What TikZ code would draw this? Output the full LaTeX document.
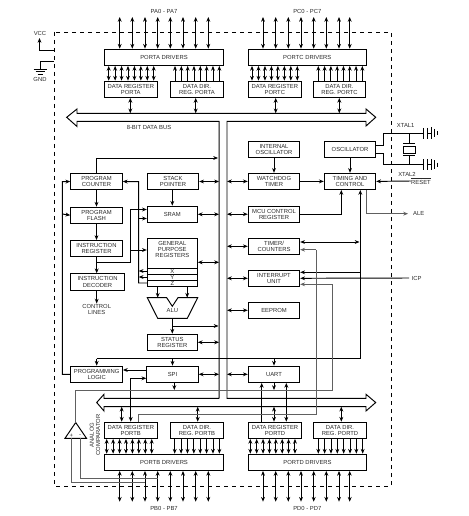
\documentclass[tikz,border=0pt]{standalone}
\usepackage{fontspec}
\setmainfont{Liberation Sans}
\usepackage{xcolor}
\usetikzlibrary{positioning,arrows.meta}
\definecolor{InkGray}{HTML}{2A2A2A}
\definecolor{WireGray}{HTML}{606060}
\newcommand{\chipfont}{\fontsize{4.4}{4.8}\selectfont}
% eight wires in a row between two nodes
\newcommand{\wirerow}[5]{\foreach \i in {0,...,7}{\pgfmathsetmacro{\wx}{#2+#3*\i}\draw[#1] (\wx,0 |- #4) -- (\wx,0 |- #5);}}
\tikzset{
  onearr/.style={-{Stealth[length=3.6pt,width=2.9pt]}},
  biarr/.style={{Stealth[length=3.6pt,width=2.9pt]}-{Stealth[length=3.6pt,width=2.9pt]}},
  block/.style={draw,fill=white,inner sep=0pt,align=center,minimum width=38.6pt,minimum height=12.2pt},
  txt/.style={inner sep=0pt,align=center,text=InkGray},
}

\begin{document}
\begin{tikzpicture}[x=0.75pt,y=-0.75pt,line width=0.72pt,every node/.style={font=\chipfont,text=InkGray}]
  \useasboundingbox (0,0) rectangle (468,516);
  % chip outline and supply
  \draw[dashed,line width=0.65pt] (54,32) rectangle (391,486);
  \node[txt] (vcc) at (40,33.5) {VCC};
  \node[txt] (gnd) at (40,79.5) {GND};
  \coordinate (vccin) at (54,50);
  \coordinate (vccend) at (39.5,38);
  \coordinate (gndin) at (54,61.7);
  \coordinate (gndend) at (40,69);
  \draw[onearr] (vccin) -| (vccend);
  \draw (gndin) -| (gndend);
  \draw (33.5,69) -- (46.5,69) (35.5,71.5) -- (44.5,71.5) (37.5,74) -- (42.5,74);

  % data bus
  \draw (219,398.3) -- (219,121.3) -- (77,121.3) -- (77,126.5) -- (66.7,117.3) -- (77,109) -- (77,113.3)
    -- (366,113.3) -- (366,109) -- (375.7,117.3) -- (366,126) -- (366,121.3) -- (227,121.3) -- (227,398.3)
    -- (366,398.3) -- (366,394.3) -- (375.7,402.5) -- (366,411) -- (366,406.7) -- (104,406.7) -- (104,411)
    -- (96.7,402.5) -- (104,394.3) -- (104,398.3) -- cycle;
  \draw[WireGray] (219,121.3) -- (219,398.3);
  \coordinate (busl) at (219,250);
  \coordinate (busr) at (227,250);
  \coordinate (bustopu) at (0,113.3);
  \coordinate (buslowd) at (0,406.7);
  \node[txt] (buslabel) at (149,127.5) {8-BIT DATA BUS};

  % port A
  \node[block,minimum width=89.6pt] (padrv) at (164,57.3) {PORTA DRIVERS};
  \node[block,minimum width=39.8pt] (pareg) at (130.8,89.3) {DATA REGISTER\\PORTA};
  \node[block,minimum width=40pt] (padir) at (197,89.3) {DATA DIR.\\REG. PORTA};
  \node[txt] (palabel) at (164,11) {PA0 - PA7};
  \coordinate (patop) at (0,17);
  \foreach \x in {119.7,132.3,145,157.7,170.3,183,195.7,208.3}
    \draw[biarr] (\x,0 |- patop) -- (\x,0 |- padrv.north);
  \wirerow{biarr}{108.7}{6.43}{padrv.south}{pareg.north}
  \wirerow{onearr}{175}{6.33}{padir.north}{padrv.south}
  \draw[biarr] (130.3,0 |- pareg.south) -- (130.3,0 |- bustopu);
  \draw[biarr] (195.7,0 |- padir.south) -- (195.7,0 |- bustopu);

  % port C
  \node[block,minimum width=88.5pt] (pcdrv) at (307.3,57.3) {PORTC DRIVERS};
  \node[block,minimum width=39.8pt] (pcreg) at (274.8,89.3) {DATA REGISTER\\PORTC};
  \node[block,minimum width=39.5pt] (pcdir) at (339.5,89.3) {DATA DIR.\\REG. PORTC};
  \node[txt] (pclabel) at (307.3,11) {PC0 - PC7};
  \foreach \x in {263,275.7,288.3,301,313.7,326.3,339,349.7}
    \draw[biarr] (\x,0 |- patop) -- (\x,0 |- pcdrv.north);
  \wirerow{biarr}{252}{6.47}{pcdrv.south}{pcreg.north}
  \wirerow{onearr}{318.3}{6.29}{pcdir.north}{pcdrv.south}
  \draw[biarr] (275.7,0 |- pcreg.south) -- (275.7,0 |- bustopu);
  \draw[biarr] (339.3,0 |- pcdir.south) -- (339.3,0 |- bustopu);

  % program side
  \node[block] (pc) at (96.5,181.5) {PROGRAM\\COUNTER};
  \node[block,below=12.4pt of pc] (flash) {PROGRAM\\FLASH};
  \node[block,below=12.1pt of flash] (ir) {INSTRUCTION\\REGISTER};
  \node[block,minimum width=40.2pt,below=12pt of ir.south west,anchor=north west] (dec) {INSTRUCTION\\DECODER};
  \node[txt] (ctl) at (96.7,309.3) {CONTROL\\LINES};
  \draw[onearr] (pc) -- (flash);
  \draw[onearr] (flash) -- (ir);
  \draw[onearr] (96.7,0 |- ir.south) -- (96.7,0 |- dec.north);
  \draw[onearr] (96.7,0 |- dec.south) -- (96.7,0 |- ctl.north);
  \draw[onearr] (pc.north) -- (96.5,158) -- (218,158);

  % registers
  \node[block,minimum width=38.6pt] (sp) at (173,181.5) {STACK\\POINTER};
  \node[block,minimum width=37.5pt] (sram) at (172.3,214.3) {SRAM};
  \node[block,minimum width=37.5pt,minimum height=36pt] (gpr) at (172.3,262.3) {};
  \node[txt,anchor=north] (gprtxt) at (172.3,240.5) {GENERAL\\PURPOSE\\REGISTERS};
  \draw (gpr.west |- 0,268.3) -- (gpr.east |- 0,268.3) (gpr.west |- 0,274.3) -- (gpr.east |- 0,274.3) (gpr.west |- 0,280.3) -- (gpr.east |- 0,280.3);
  \node[txt] (regx) at (172.3,271.3) {X};
  \node[txt] (regy) at (172.3,277.3) {Y};
  \node[txt] (regz) at (172.3,283.3) {Z};
  \coordinate (alua) at (157.7,297.7);
  \coordinate (alub) at (187.2,297.7);
  \coordinate (aluo) at (172.3,318.3);
  \draw (147.3,297.7) -- (157.7,318.3) -- (187.3,318.3) -- (197.7,297.7) -- (178,297.7) -- (172.3,306.3) -- (166.7,297.7) -- cycle;
  \node[txt] (alu) at (172.3,310.5) {ALU};
  \node[block,minimum width=37.5pt] (sreg) at (172.3,342.3) {STATUS\\REGISTER};
  \draw[onearr] (sram.north |- sp.south) -- (sram.north);
  \draw[onearr] (alua |- gpr.south) -- (alua);
  \draw[onearr] (alub |- gpr.south) -- (alub);
  \draw[onearr] (aluo) -- (sreg.north);
  \draw[onearr] (172.3,326) -- (218.5,326);
  \draw[biarr] (sp.east) -- (sp.east -| busl);
  \draw[biarr] (sram.east) -- (sram.east -| busl);
  \draw[biarr] (gpr.east) -- (gpr.east -| busl);
  \draw[biarr] (sreg.east) -- (sreg.east -| busl);
  % register lines
  \draw[onearr] (gpr.west |- 0,283) -- (138.7,283) -- (138.7,181.7) -- (pc.east);
  \draw[onearr] (138.7,218.5) -- (sram.west |- 0,218.5);
  \draw[onearr] (gpr.west |- 0,271) -- (138.7,271);
  \draw[onearr] (gpr.west |- 0,277) -- (138.7,277);
  \draw[onearr] (96.7,262.3) -- (130.7,262.3) -- (130.7,209.5) -- (sram.west |- 0,209.5);
  \draw[onearr] (130.7,250) -- (gpr.west |- 0,250);

  % right column
  \node[block] (iosc) at (274,149.3) {INTERNAL\\OSCILLATOR};
  \node[block] (wdt) at (274,181.4) {WATCHDOG\\TIMER};
  \node[block] (mcu) at (274,214.2) {MCU CONTROL\\REGISTER};
  \node[block] (timer) at (274,246.3) {TIMER/\\COUNTERS};
  \node[block] (intr) at (274,278.3) {INTERRUPT\\UNIT};
  \node[block] (eeprom) at (274,310.3) {EEPROM};
  \node[block] (osc) at (350,149.3) {OSCILLATOR};
  \node[block] (tim) at (350,181.4) {TIMING AND\\CONTROL};
  \draw[onearr] (iosc) -- (wdt);
  \draw[onearr] (osc) -- (tim);
  \draw[onearr] (wdt) -- (tim);
  \draw[onearr] (mcu.east) -- (341.3,0 |- mcu.east) -- (341.3,0 |- tim.south);
  \foreach \n in {wdt,mcu,timer,intr,eeprom}
    \draw[biarr] (\n.west) -- (\n.west -| busr);
  \coordinate (clock) at (360.3,358.7);
  \draw[onearr] (clock) -- (360.3,0 |- tim.south);
  \draw[biarr] (timer.east |- 0,242) -- (359.5,242);
  \draw[onearr] (360.3,272.3) -- (intr.east |- 0,272.3);
  \node[txt,anchor=west] (icp) at (411.3,278) {ICP};
  \draw[onearr] ([xshift=-1.7pt]icp.west) -- (intr.east);
  \node[txt,anchor=west] (ale) at (412.7,213.7) {ALE};
  \draw[onearr,WireGray] (366.7,0 |- tim.south) -- (366.7,213.7) -- ([xshift=-3.5pt]ale.west);

  % clock source
  \node[txt] (xa) at (405.7,125.3) {XTAL1};
  \node[txt] (xb) at (407,174) {XTAL2};
  \node[txt] (rst) at (421,181) {$\overline{\mbox{RESET}}$};
  \draw[onearr] (rst.west) -- (tim.east);
  \draw (osc.east |- 0,145.7) -- (383.3,145.7) -- (383.3,133.3) -- (423.3,133.3) (427.7,133.3) -- (431.7,133.3);
  \draw (osc.east |- 0,153.3) -- (383.3,153.3) -- (383.3,164.7) -- (423.3,164.7) (427.7,164.7) -- (431.7,164.7);
  \draw (423.3,128) -- (423.3,138.7) (427.7,128) -- (427.7,138.7) (431.7,127.5) -- (431.7,139) (434.3,129) -- (434.3,137.3) (437,131.3) -- (437,135.3);
  \draw (423.3,159.4) -- (423.3,170) (427.7,159.4) -- (427.7,170) (431.7,158.9) -- (431.7,170.5) (434.3,160.4) -- (434.3,169) (437,162.7) -- (437,166.7);
  \draw (409.3,133.3) -- (409.3,143.7) (409.3,155.7) -- (409.3,164.7);
  \draw (403,143.7) -- (415,143.7) (403,155.7) -- (415,155.7);
  \draw (403,146.3) rectangle (415,153);

  % bottom row of units
  \node[block] (prog) at (96.7,374.3) {PROGRAMMING\\LOGIC};
  \node[block] (spi) at (172.5,374.3) {SPI};
  \node[block] (uart) at (274,374.3) {UART};
  \draw (96.7,358.7) -- (clock);
  \draw[onearr] (96.7,358.7) -- (prog.north);
  \draw[onearr] (spi.north |- clock) -- (spi.north);
  \draw[onearr] (uart.north |- clock) -- (uart.north);
  \draw[onearr] (spi.west |- 0,370) -- (prog.east |- 0,370);
  \draw[biarr] (spi.east) -- (spi.east -| busl);
  \draw[biarr] (uart.west) -- (uart.west -| busr);
  \draw[onearr] (prog.west) -- (62.3,0 |- prog.west) -- (62.3,181.7) -- (pc.west);
  \draw[onearr] (62.3,214) -- (flash.west);

  % port B
  \node[block,minimum width=39.8pt] (pbreg) at (130.8,430.3) {DATA REGISTER\\PORTB};
  \node[block,minimum width=40pt] (pbdir) at (197,430.3) {DATA DIR.\\REG. PORTB};
  \node[block,minimum width=89.6pt] (pbdrv) at (164,462.3) {PORTB DRIVERS};
  \node[txt] (pblabel) at (164,508.3) {PB0 - PB7};
  \coordinate (pbot) at (0,501.7);
  \foreach \x in {119.7,132.3,145,157.7,170.3,183,195.7,208.3}
    \draw[biarr] (\x,0 |- pbot) -- (\x,0 |- pbdrv.south);
  \wirerow{biarr}{106.7}{6.43}{pbreg.south}{pbdrv.north}
  \wirerow{onearr}{174.7}{6.38}{pbdir.south}{pbdrv.north}
  \draw[biarr] (121.7,0 |- buslowd) -- (121.7,0 |- pbreg.north);
  \draw[biarr] (197.7,0 |- buslowd) -- (197.7,0 |- pbdir.north);
  \draw[biarr] (130.7,0 |- pbreg.north) -- (130.7,378.3) -- (spi.west |- 0,378.3);
  \draw[onearr] (174.3,0 |- spi.south) -- (174.3,390);

  % port D
  \node[block,minimum width=40pt] (pdreg) at (275,430.3) {DATA REGISTER\\PORTD};
  \node[block,minimum width=40pt] (pddir) at (340,430.3) {DATA DIR.\\REG. PORTD};
  \node[block,minimum width=88.8pt] (pddrv) at (307.5,462.3) {PORTD DRIVERS};
  \node[txt] (pdlabel) at (307.3,508.3) {PD0 - PD7};
  \foreach \x in {263,275.7,288.3,301,313.7,326.3,339,349.7}
    \draw[biarr] (\x,0 |- pbot) -- (\x,0 |- pddrv.south);
  \wirerow{biarr}{250.3}{6.38}{pdreg.south}{pddrv.north}
  \wirerow{onearr}{318.3}{6.34}{pddir.south}{pddrv.north}
  \draw[biarr] (341.3,0 |- buslowd) -- (341.3,0 |- pddir.north);
  \draw[biarr] (274,0 |- buslowd) -- (274,0 |- pdreg.north);
  \draw[onearr] (261.7,0 |- pdreg.north) -- (261.7,0 |- uart.south);
  \draw[biarr] (286.3,0 |- pdreg.north) -- (286.3,0 |- uart.south);
  \draw[onearr] (274,0 |- uart.south) -- (274,390);

  % analog comparator
  \coordinate (capex) at (75.7,422.5);
  \node[txt,rotate=90] (cmplabel) at (95,435) {ANALOG\\COMPARATOR};
  \draw (capex) -- (86.5,438.3) -- (65,438.3) -- cycle;
  \node[txt] (cmpp) at (71.3,435.8) {+};
  \node[txt] (cmpm) at (80,435.8) {-};
  \coordinate (cmpin) at (145,482.5);
  \coordinate (cmpim) at (157.7,478.5);
  \draw[WireGray] (71.3,438.3) -- (71.3,482.5) -- (cmpin);
  \draw[WireGray] (80,438.3) -- (80,478.5) -- (cmpim);
  \draw[WireGray] (capex) -- (75.7,390) -- (332.5,390) -- (332.5,284.3);
  \draw[WireGray,onearr] (332.5,284.3) -- (intr.east |- 0,284.3);
  \draw[WireGray] (138.3,0 |- pbreg.north) -- (138.3,414.3) -- (316,414.3) -- (316,249.7);
  \draw[WireGray,onearr] (316,249.7) -- (timer.east |- 0,249.7);
\end{tikzpicture}
\end{document}
